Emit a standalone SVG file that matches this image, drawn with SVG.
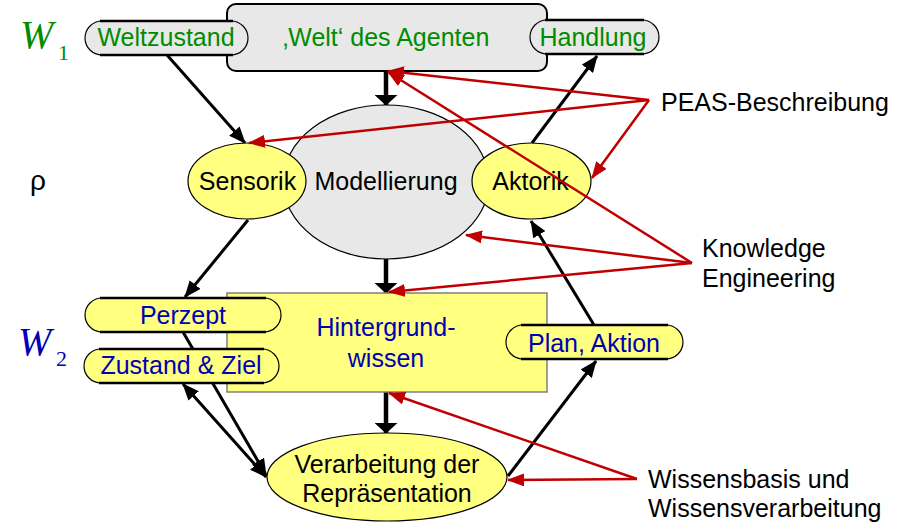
<svg xmlns="http://www.w3.org/2000/svg" width="914" height="522" viewBox="0 0 914 522">
<style>
text{font-family:"Liberation Sans",Arial,sans-serif;font-size:25px}
.c{text-anchor:middle}
.g{fill:#008c00}
.b{fill:#0000b4}
.k{fill:#000}
.gray{fill:#e8e8e8;stroke:#000;stroke-width:1.2}
.yel{fill:#ffff80;stroke:#000;stroke-width:1.2}
.edge{stroke:#000;stroke-width:2.5;fill:none}
.thin{stroke:#000;stroke-width:3;fill:none}
.thick{stroke:#000;stroke-width:4.5;fill:none}
.red{stroke:#c00000;stroke-width:2.5;fill:none}
.wl{font-family:"Liberation Serif","Times New Roman",serif;font-style:italic;font-size:40px}
.ws{font-family:"Liberation Serif","Times New Roman",serif;font-size:22px}
</style>
<defs>
<marker id="ah" markerUnits="userSpaceOnUse" markerWidth="17" markerHeight="14" viewBox="0 0 17 14" refX="16" refY="7" orient="auto-start-reverse"><path d="M0,0 L17,7 L0,14 Z" fill="#000"/></marker>
<marker id="th" markerUnits="userSpaceOnUse" markerWidth="11" markerHeight="24" viewBox="0 0 11 24" refX="10.5" refY="12" orient="auto"><path d="M0,0 L11,12 L0,24 Z" fill="#000"/></marker>
<marker id="rh" markerUnits="userSpaceOnUse" markerWidth="17" markerHeight="13" viewBox="0 0 17 13" refX="16" refY="6.5" orient="auto"><path d="M0,0 L17,6.5 L0,13 Z" fill="#c00000"/></marker>
</defs>

<g id="connectors">
<path class="thin" d="M167,55 L245,143" marker-end="url(#ah)"/>
<path class="thin" d="M532,143 L597,56" marker-end="url(#ah)"/>
<path class="thin" d="M248,220 L185,297" marker-end="url(#ah)"/>
<path class="thin" d="M594,325 L531,221" marker-end="url(#ah)"/>
<path class="thin" d="M508,476 L596,361" marker-end="url(#ah)"/>
<path class="thin" d="M183,332 L266,475" marker-end="url(#ah)"/>
<path class="thin" d="M183,384 L266,477" marker-start="url(#ah)" marker-end="url(#ah)"/>
<path class="thick" d="M386,71 L386,105" marker-end="url(#th)"/>
<path class="thick" d="M386,258 L386,293" marker-end="url(#th)"/>
<path class="thick" d="M386,392 L386,433" marker-end="url(#th)"/>
</g>

<g id="labels">
<text class="wl g" x="20" y="48">W</text>
<text class="ws g" x="58" y="60">1</text>
<text class="wl b" x="18" y="355">W</text>
<text class="ws b" x="56" y="366">2</text>
<text class="k" x="30" y="190" style="font-size:28px">ρ</text>
</g>

<g id="welt">
<rect class="gray" x="227" y="4" width="320" height="67" rx="9" style="stroke-width:2"/>
<text class="c g" x="386" y="46">‚Welt‘ des Agenten</text>
</g>
<g id="weltzustand">
<rect class="gray" x="85" y="21" width="163" height="34" rx="17"/>
<path class="edge" d="M100,21 H233 M100,55 H233"/>
<text class="c g" x="166" y="46">Weltzustand</text>
</g>
<g id="handlung">
<rect class="gray" x="530" y="20" width="129" height="34" rx="17"/>
<path class="edge" d="M545,20 H644 M545,54 H644"/>
<text class="c g" x="593" y="46">Handlung</text>
</g>

<g id="modellierung">
<ellipse class="gray" cx="386" cy="182" rx="103" ry="77"/>
<text class="c k" x="386" y="190">Modellierung</text>
</g>
<g id="sensorik">
<ellipse class="yel" cx="247" cy="181" rx="59" ry="38"/>
<text class="c k" x="247.5" y="190">Sensorik</text>
</g>
<g id="aktorik">
<ellipse class="yel" cx="531.5" cy="181" rx="59.5" ry="38"/>
<text class="c k" x="530.5" y="190">Aktorik</text>
</g>

<g id="hintergrundwissen">
<rect x="227" y="293" width="320" height="99" fill="#ffff80" stroke="#808080" stroke-width="1.5"/>
<text class="c b" x="386" y="336">Hintergrund-</text>
<text class="c b" x="386" y="367">wissen</text>
</g>
<g id="perzept">
<rect class="yel" x="85" y="298" width="196" height="34" rx="17"/>
<path class="edge" d="M100,298 H266 M100,332 H266"/>
<text class="c b" x="183" y="324">Perzept</text>
</g>
<g id="zustand">
<rect class="yel" x="84" y="349" width="195" height="34" rx="17"/>
<path class="edge" d="M99,349 H264 M99,383 H264"/>
<text class="c b" x="181" y="374">Zustand &amp; Ziel</text>
</g>
<g id="plan">
<rect class="yel" x="506" y="325" width="177" height="34" rx="17"/>
<path class="edge" d="M521,325 H668 M521,359 H668"/>
<text class="c b" x="594" y="352">Plan, Aktion</text>
</g>
<g id="verarbeitung">
<ellipse class="yel" cx="387" cy="477" rx="120" ry="44"/>
<text class="c k" x="387" y="473">Verarbeitung der</text>
<text class="c k" x="387" y="502">Repräsentation</text>
</g>

<g id="annotations">
<text class="k" x="661" y="111">PEAS-Beschreibung</text>
<text class="k" x="702" y="257">Knowledge</text>
<text class="k" x="702" y="287">Engineering</text>
<text class="k" x="648" y="488">Wissensbasis und</text>
<text class="k" x="648" y="517">Wissensverarbeitung</text>
</g>

<g id="annotation-connectors">
<path class="red" d="M649,100 L388,71" marker-end="url(#rh)"/>
<path class="red" d="M649,100 L249,143" marker-end="url(#rh)"/>
<path class="red" d="M649,100 L592,178" marker-end="url(#rh)"/>
<path class="red" d="M692,263 L388,72" marker-end="url(#rh)"/>
<path class="red" d="M692,263 L466,235" marker-end="url(#rh)"/>
<path class="red" d="M692,263 L389,292" marker-end="url(#rh)"/>
<path class="red" d="M637,479 L389,393" marker-end="url(#rh)"/>
<path class="red" d="M637,479 L508,480" marker-end="url(#rh)"/>
</g>
</svg>
